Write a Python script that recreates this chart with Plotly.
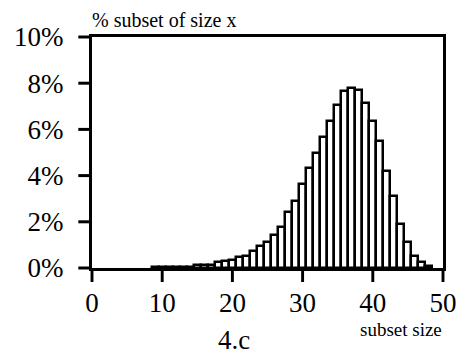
import plotly.graph_objects as go

sizes = list(range(9, 49))
percent = [0.05, 0.05, 0.05, 0.05, 0.05, 0.05,   # 9-14
           0.12, 0.12, 0.12,                        # 15-17
           0.25, 0.30, 0.34, 0.46, 0.53, 0.72, 0.94, 1.11,  # 18-25
           1.45, 1.79, 2.44, 2.91, 3.65, 4.35, 4.99, 5.68,  # 26-33
           6.38, 7.05, 7.67, 7.80, 7.71, 7.15, 6.37, 5.50,  # 34-41
           4.21, 3.13, 1.92, 1.14, 0.52, 0.26, 0.10]         # 42-48

x_ticks = [0, 10, 20, 30, 40, 50]
y_ticks = [0, 2, 4, 6, 8, 10]
y_labels = ["0%", "2%", "4%", "6%", "8%", "10%"]

X_RANGE = [0, 50]
Y_RANGE = [0, 10]

FONT = "Liberation Serif"

fig = go.Figure(go.Bar(
    x=sizes, y=percent, width=1,
    marker=dict(color="white", line=dict(color="black", width=2.5)),
))

L, R, T, B = 92, 18, 37, 90
W, H = 469, 358
pw, ph = W - L - R, H - T - B
TICK = 14
TW = 3

def px(x):
    return (x - L) / pw

def py(y):
    return (H - B - y) / ph

def xfrac(v):
    return (v - X_RANGE[0]) / (X_RANGE[1] - X_RANGE[0])

def yfrac(v):
    return (v - Y_RANGE[0]) / (Y_RANGE[1] - Y_RANGE[0])

# tick marks as small filled rectangles just outside the plotting area
shapes = []
for v in x_ticks:
    shapes.append(dict(type="rect", xref="paper", yref="paper", layer="above",
                       x0=xfrac(v) - TW / 2 / pw, x1=xfrac(v) + TW / 2 / pw,
                       y0=0, y1=-TICK / ph, fillcolor="black",
                       line=dict(width=0)))
for v in y_ticks:
    shapes.append(dict(type="rect", xref="paper", yref="paper", layer="above",
                       x0=0, x1=-TICK / pw,
                       y0=yfrac(v) - TW / 2 / ph, y1=yfrac(v) + TW / 2 / ph,
                       fillcolor="black", line=dict(width=0)))

annotations = [
    dict(text="% subset of size x", xref="paper", yref="paper",
         x=px(90), y=py(20), xanchor="left", yanchor="middle",
         showarrow=False, font=dict(size=20, family=FONT)),
    dict(text="subset size", xref="paper", yref="paper",
         x=px(452), y=py(329), xanchor="right", yanchor="middle",
         showarrow=False, font=dict(size=19, family=FONT)),
    dict(text="4.c", xref="paper", yref="paper",
         x=px(237), y=py(357), xanchor="center", yanchor="bottom",
         showarrow=False, font=dict(size=27, family=FONT)),
]

axis_common = dict(showline=True, linewidth=3, linecolor="#000000", mirror=True,
                   showgrid=False, zeroline=False, ticks="outside",
                   tickcolor="rgba(0,0,0,0)",
                   tickfont=dict(size=27, family=FONT, color="black"))

fig.update_layout(
    width=W, height=H,
    margin=dict(l=L, r=R, t=T, b=B),
    plot_bgcolor="white", paper_bgcolor="white",
    showlegend=False, bargap=0,
    font=dict(family=FONT, color="black"),
    xaxis=dict(range=X_RANGE, tickmode="array", tickvals=x_ticks, ticklen=9,
               **axis_common),
    yaxis=dict(range=Y_RANGE, tickmode="array", tickvals=y_ticks, ticktext=y_labels,
               ticklen=20, **axis_common),
    shapes=shapes,
    annotations=annotations,
)

fig.write_html("out.html")
